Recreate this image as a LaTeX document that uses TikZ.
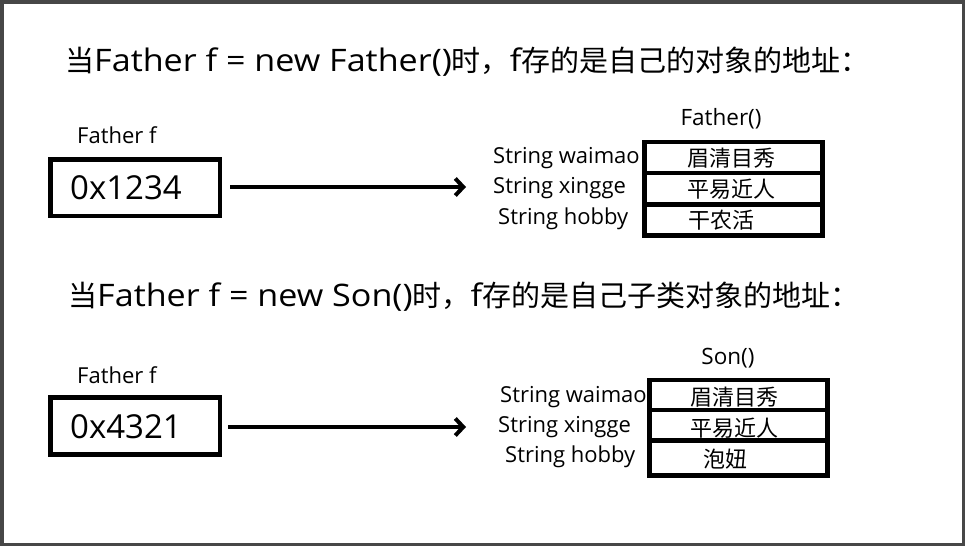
\documentclass[tikz,border=0pt]{standalone}
\usepackage{fontspec}
\setmainfont{Open Sans}
\newfontfamily\cjk{Noto Sans CJK SC}
\newfontfamily\titlelatin[FakeStretch=1.1]{Open Sans}
\newcommand\tcjk[1]{{\cjk\fontsize{29}{30}\selectfont #1}}
\usetikzlibrary{arrows.meta}
\begin{document}
\begin{tikzpicture}[x=1pt,y=-1pt,
  title/.style={anchor=west, inner sep=0pt, font=\titlelatin\fontsize{31}{32}\selectfont},
  varlbl/.style={anchor=west, inner sep=0pt, font=\fontsize{22}{24}\selectfont},
  valtxt/.style={anchor=west, inner sep=0pt, font=\fontsize{33}{35}\selectfont},
  reflbl/.style={inner sep=0pt, font=\fontsize{22.5}{24}\selectfont},
  fldlbl/.style={anchor=west, inner sep=0pt, font=\fontsize{22}{24}\selectfont},
  celltxt/.style={anchor=west, inner sep=0pt, font=\cjk\fontsize{22}{24}\selectfont},
  refbox/.style={draw, line width=4.5pt, minimum width=169.5pt, minimum height=56.5pt, inner sep=0pt},
  row/.style={draw, line width=4.5pt, minimum width=178pt, inner sep=0pt},
  arr/.style={line width=4pt, -{Straight Barb[length=8pt,width=17pt]}}
]
\useasboundingbox (0,0) rectangle (965,546);
\draw[line width=3.5pt, draw=black!72] (1.75,1.75) rectangle (963.25,544.25);

% ---------- part 1 ----------
\node[title] (t1) at (65,62) {\tcjk{当}Father f = new Father()\tcjk{时，}f\tcjk{存的是自己的对象的地址：}};
\node[varlbl] (v1) at (77,135) {Father f};
\node[refbox] (box1) at (135,187.5) {};
\node[valtxt] (val1) at (70,187.5) {0x1234};
\coordinate (tip1) at (466,187);
\draw[arr] (230,187) -- (tip1);

\node[reflbl] (o1) at (721,119) {Father()};
\node[row, minimum height=31pt] (r1a) at (733.5,157.5) {};
\node[row, minimum height=31.5pt] (r1b) at (733.5,188.75) {};
\node[row, minimum height=31pt] (r1c) at (733.5,220) {};
\node[fldlbl] (f1a) at (493,158) {String waimao};
\node[fldlbl] (f1b) at (493,188) {String xingge};
\node[fldlbl] (f1c) at (498,219) {String hobby};
\node[celltxt] (c1a) at (687,158) {眉清目秀};
\node[celltxt] (c1b) at (687,189) {平易近人};
\node[celltxt] (c1c) at (688,220) {干农活};

% ---------- part 2 ----------
\node[title] (t2) at (68,297) {\tcjk{当}Father f = new Son()\tcjk{时，}f\tcjk{存的是自己子类对象的地址：}};
\node[varlbl] (v2) at (77,375) {Father f};
\node[refbox, minimum height=57pt] (box2) at (135,426) {};
\node[valtxt] (val2) at (70,427) {0x4321};
\coordinate (tip2) at (466,427);
\draw[arr] (228,427) -- (tip2);

\node[reflbl] (o2) at (728,358) {Son()};
\node[row, minimum height=30pt] (r2a) at (738.5,395) {};
\node[row, minimum height=30.5pt] (r2b) at (738.5,425.25) {};
\node[row, minimum height=35pt] (r2c) at (738.5,458) {};
\node[fldlbl] (f2a) at (500,397) {String waimao};
\node[fldlbl] (f2b) at (498,427) {String xingge};
\node[fldlbl] (f2c) at (505,457) {String hobby};
\node[celltxt] (c2a) at (690,397) {眉清目秀};
\node[celltxt] (c2b) at (690,428) {平易近人};
\node[celltxt] (c2c) at (703,459) {泡妞};
\end{tikzpicture}
\end{document}
